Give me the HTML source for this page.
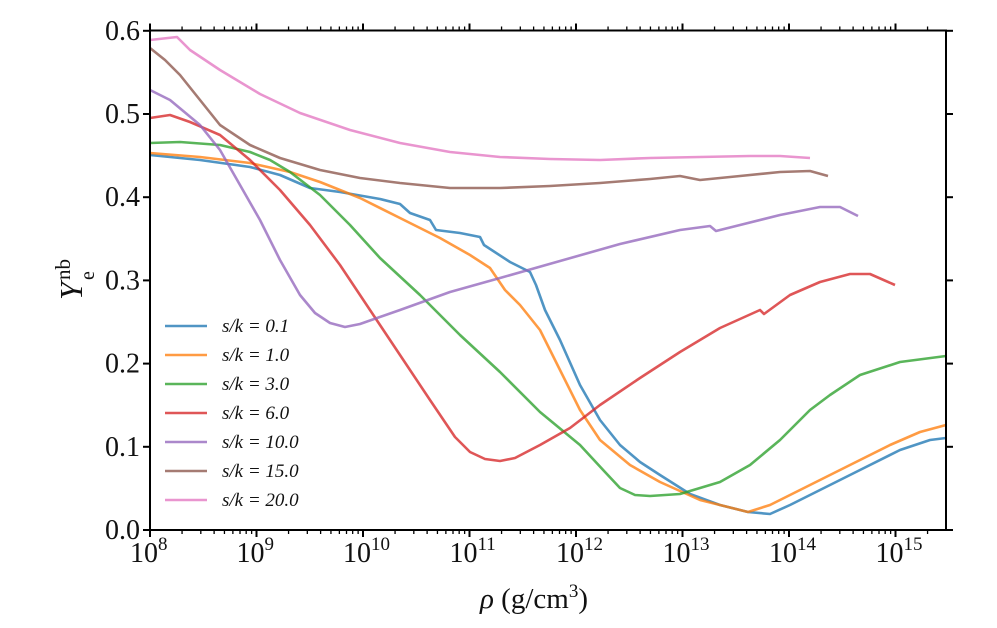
<!DOCTYPE html>
<html><head><meta charset="utf-8"><style>
body{margin:0;background:#fff}
svg text{font-family:"Liberation Serif","DejaVu Serif",serif;fill:#111}
</style></head><body>
<svg width="997" height="623" xmlns="http://www.w3.org/2000/svg">
<g id="curves" fill="none" stroke-width="2.6" stroke-linejoin="round" stroke-opacity="0.78"></g>
<g id="axes" stroke="#000" fill="none"></g>
<g id="labels" font-size="28"></g>
<text x="480" y="608" font-size="29"><tspan font-style="italic">ρ</tspan> (g/cm<tspan font-size="19" dy="-11">3</tspan><tspan dy="11">)</tspan></text>
<g transform="translate(82,300) rotate(-90)"><text x="0" y="0" font-size="32" font-style="italic">Y</text><text x="20" y="12" font-size="20">e</text><text x="20" y="-12" font-size="21">nb</text></g>
<script>
var NS="http://www.w3.org/2000/svg";
function el(p,t,a,txt){var e=document.createElementNS(NS,t);for(var k in a)e.setAttribute(k,a[k]);if(txt!=null)e.textContent=txt;p.appendChild(e);return e;}
var C=document.getElementById('curves'),A=document.getElementById('axes'),L=document.getElementById('labels');
var data=[
["#1f77b4","0.1",[[150,155],[200,160],[250,167],[280,175],[310,188],[340,192],[380,199],[400,204],[410,213],[430,220],[436,230],[460,233],[480,237],[484,245],[510,262],[530,272],[536,285],[545,310],[560,340],[580,385],[600,420],[620,445],[640,462],[660,475],[690,494],[720,505],[748,512],[770,514],[790,505],[820,490],[860,470],[900,450],[930,440],[946,438]]],
["#ff7f0e","1.0",[[150,153],[200,157],[250,163],[290,172],[320,182],[360,198],[400,218],[440,238],[470,255],[490,268],[505,290],[520,305],[540,330],[560,370],[580,410],[600,440],[630,465],[660,482],[700,500],[748,512],[770,505],[810,485],[850,465],[890,445],[920,432],[946,425]]],
["#2ca02c","3.0",[[150,143],[180,142],[220,145],[250,152],[270,160],[290,172],[320,195],[350,225],[380,258],[420,295],[460,335],[500,372],[540,412],[580,445],[605,472],[620,488],[635,495],[650,496],[680,494],[720,482],[750,465],[780,440],[810,410],[830,395],[860,375],[900,362],[946,356]]],
["#d62728","6.0",[[150,118],[170,115],[190,122],[220,135],[250,160],[280,190],[310,225],[340,265],[370,310],[400,355],[430,400],[455,437],[470,452],[485,459],[500,461],[515,458],[540,445],[570,428],[600,405],[640,378],[680,352],[720,328],[760,310],[764,314],[790,295],[820,282],[850,274],[870,274],[895,285]]],
["#9467bd","10.0",[[150,90],[170,100],[200,125],[220,150],[240,185],[260,220],[280,260],[300,295],[315,313],[330,323],[345,327],[360,324],[400,310],[450,292],[500,278],[560,261],[620,244],[680,230],[710,226],[716,231],[740,225],[780,215],[820,207],[840,207],[858,216]]],
["#8c564b","15.0",[[150,48],[165,60],[180,75],[200,100],[220,125],[250,145],[280,158],[320,170],[360,178],[400,183],[450,188],[500,188],[550,186],[600,183],[650,179],[680,176],[700,180],[740,176],[780,172],[810,171],[828,176]]],
["#e377c2","20.0",[[150,40],[177,37],[190,50],[220,70],[260,94],[300,113],[350,130],[400,143],[450,152],[500,157],[550,159],[600,160],[650,158],[700,157],[750,156],[780,156],[810,158]]]];
data.forEach(function(d,i){
 el(C,'polyline',{points:d[2].map(function(p){return p.join(',')}).join(' '),stroke:d[0]});
 var y=326+i*29;
 el(C,'line',{x1:165,x2:207,y1:y,y2:y,stroke:d[0]});
 el(L,'text',{x:222,y:y+6,'font-size':19,'font-style':'italic'},'s/k = '+d[1]);
});
el(A,'rect',{x:150,y:30.5,width:796,height:499.5,'stroke-width':2});
var dec=106.5;
for(var v=0;v<=6;v++){var y=530-v*83.2;
 el(A,'line',{x1:143,x2:150,y1:y,y2:y,'stroke-width':2});
 el(A,'line',{x1:946,x2:953,y1:y,y2:y,'stroke-width':2});
 el(L,'text',{x:140,y:y+9,'text-anchor':'end'},(v/10).toFixed(1));}
for(var e=8;e<=15;e++){for(var m=1;m<10;m++){var x=150+(e-8+Math.log10(m))*dec;if(x>946)break;
 var len=m==1?7:4;
 el(A,'line',{x1:x,x2:x,y1:530,y2:530+len,'stroke-width':m==1?2:1.3});
 el(A,'line',{x1:x,x2:x,y1:30.5,y2:30.5-len,'stroke-width':m==1?2:1.3});}
 var x=150+(e-8)*dec;
 var t=el(L,'text',{x:x-20,y:562});
 el(t,'tspan',{},'10');el(t,'tspan',{dy:-12,'font-size':19},String(e));}
</script>
</svg>
</body></html>
